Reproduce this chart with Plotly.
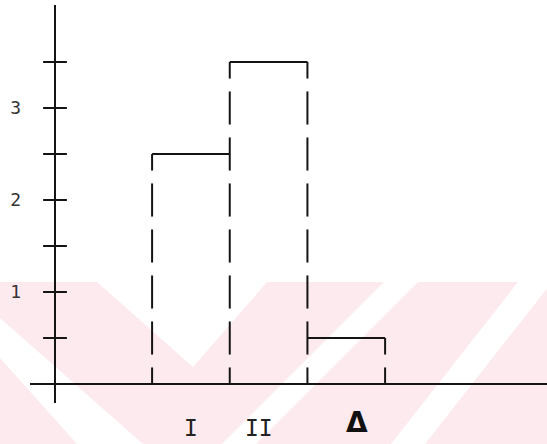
import plotly.graph_objects as go

# ---- data ----
categories = ["I", "II", "Δ"]
values = [2.5, 3.5, 0.5]
y_tick_levels = [0.5, 1.0, 1.5, 2.0, 2.5, 3.0, 3.5]
y_label_vals = [1, 2, 3]
y_label_text = ["1", "2", "3"]

# ---- layout constants ----
W, H = 547, 444
ML, MR, MT, MB = 30, 0, 5, 41
X_START = 1.25          # left edge of first bar (axis at x=0)
BAR_W = 1.0
HALF_DASH = 0.18
STEP = 0.5
INK = "#141414"

edges = [X_START + i * BAR_W for i in range(len(values) + 1)]
edge_heights = []
for i in range(len(edges)):
    left = values[i - 1] if i - 1 >= 0 else 0
    right = values[i] if i < len(values) else 0
    edge_heights.append(max(left, right))

# dashed vertical edges: dashes centred on every half-unit level
dx, dy = [], []
for x, h in zip(edges, edge_heights):
    n = int(round(h / STEP))
    for k in range(n + 1):
        lv = k * STEP
        lo, hi = max(0, lv - HALF_DASH), min(h, lv + HALF_DASH)
        dx += [x, x, None]
        dy += [lo, hi, None]

# solid tops
tx, ty = [], []
for i, v in enumerate(values):
    tx += [edges[i], edges[i + 1], None]
    ty += [v, v, None]

fig = go.Figure()
fig.add_trace(go.Scatter(x=dx, y=dy, mode="lines", line=dict(color=INK, width=2),
                         hoverinfo="skip", showlegend=False))
fig.add_trace(go.Scatter(x=tx, y=ty, mode="lines", line=dict(color=INK, width=2),
                         hoverinfo="skip", showlegend=False))
# cross ticks on the y axis
fig.add_trace(go.Scatter(x=[0] * len(y_tick_levels), y=y_tick_levels, mode="markers",
                         marker=dict(symbol="line-ew", size=17, line=dict(color=INK, width=2)),
                         hoverinfo="skip", showlegend=False, cliponaxis=False))

# category labels under the bars
label_fonts = [dict(family="DejaVu Sans Mono", size=23, color="#222"),
               dict(family="DejaVu Sans Mono", size=23, color="#222"),
               dict(family="DejaVu Sans", size=28, color="#111", weight="bold")]
label_xshift = [0, -10, 11]
label_yshift = [-25, -25, -19]
for i, c in enumerate(categories):
    fig.add_annotation(x=edges[i] + BAR_W / 2, y=0, xref="x", yref="paper",
                       text=c, showarrow=False, font=label_fonts[i],
                       xanchor="center", yanchor="middle",
                       xshift=label_xshift[i], yshift=label_yshift[i])

# background watermark (pink band with white diagonal stripes)
pw, ph = W - ML - MR, H - MT - MB
def P(px, py):
    return (px - ML) / pw, (H - MB - py) / ph

def poly(pts, color):
    d = "M " + " L ".join(f"{P(a, b)[0]:.4f},{P(a, b)[1]:.4f}" for a, b in pts) + " Z"
    fig.add_shape(type="path", path=d, xref="paper", yref="paper",
                  fillcolor=color, line=dict(width=0), layer="below")

PINK = "#fdeaee"
poly([(0, 282), (W, 282), (W, H), (0, H)], PINK)
poly([(97, 282), (267, 282), (193, 367)], "white")
poly([(0, 318), (0, 358), (77, 444), (143, 444)], "white")
poly([(384, 282), (418, 282), (256, 444), (222, 444)], "white")
poly([(518, 282), (552, 282), (425, 444), (391, 444)], "white")

x0 = -(55 - ML) / 77.67
x1 = x0 + pw / 77.67
y0 = -(H - MB - 384) / 92.0
y1 = y0 + ph / 92.0

fig.update_layout(
    width=W, height=H,
    margin=dict(l=ML, r=MR, t=MT, b=MB, autoexpand=False),
    paper_bgcolor="white", plot_bgcolor="rgba(0,0,0,0)",
    showlegend=False,
    xaxis=dict(range=[x0, x1], showgrid=False, showticklabels=False, ticks="",
               showline=False, automargin=False,
               zeroline=True, zerolinecolor=INK, zerolinewidth=2),
    yaxis=dict(range=[y0, y1], showgrid=False, showline=False, ticks="",
               automargin=False,
               tickvals=y_label_vals, ticktext=y_label_text,
               tickfont=dict(family="DejaVu Sans Mono", size=18, color="#333"),
               ticklabelstandoff=8,
               zeroline=True, zerolinecolor=INK, zerolinewidth=2),
)

fig.write_html("out.html", config={"displayModeBar": False},
               post_script="document.body.style.margin='0';document.body.style.overflow='hidden';")
